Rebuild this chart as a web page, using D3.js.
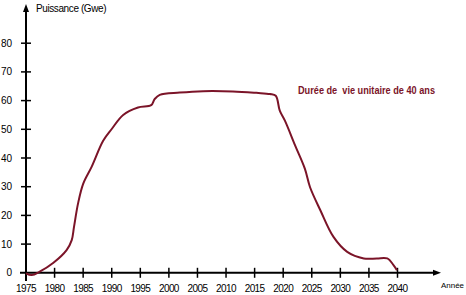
<!DOCTYPE html>
<html><head><meta charset="utf-8">
<script src="https://cdn.jsdelivr.net/npm/d3@7"></script>
<style>body{margin:0;background:#fff}svg{display:block}text{font-family:"Liberation Sans",Arial,sans-serif;white-space:pre}</style>
</head><body>
<script>
const years = [1975,1976,1977.4,1979.8,1982.1,1983,1983.4,1984.1,1985,1986.5,1988.5,1990,1992,1994.6,1996.9,1997.5,1998.4,2001.9,2006,2011.2,2015.3,2017.7,2018.7,2019.4,2020.3,2022.1,2023.8,2024.7,2026.5,2028.8,2031.2,2034.1,2036.4,2038.2,2039.3,2039.9];
const power = [-0.2,-0.8,0.4,3.5,7.9,11.4,16,24.1,31,37,46,50.1,55,57.6,58.4,60.5,62,62.8,63.3,63.2,62.7,62.3,61.7,56.5,53,44.3,36.2,29.8,21.8,12.5,7.3,5,5,5,2.7,0.9];
const xTicks = [1975,1980,1985,1990,1995,2000,2005,2010,2015,2020,2025,2030,2035,2040];
const yTicks = [0,10,20,30,40,50,60,70,80];
const yTitle = "Puissance (Gwe)";
const xTitle = "Année";
const note = "Durée de  vie unitaire de 40 ans";

const W = 466, H = 295, col = "#7b1428";
const svg = d3.select("body").append("svg").attr("width", W).attr("height", H);
const x = d3.scaleLinear().domain([1975, 2040]).range([26, 397.5]);
const y = d3.scaleLinear().domain([0, 80]).range([272.8, 43.2]);

svg.append("line").attr("x1", 26).attr("x2", 26).attr("y1", 10).attr("y2", 281).attr("stroke", "#000").attr("stroke-width", 2);
svg.append("path").attr("d", "M26,4 L23,12 L29,12 Z").attr("fill", "#000");
svg.append("line").attr("x1", 20).attr("x2", 434).attr("y1", y(0)).attr("y2", y(0)).attr("stroke", "#000").attr("stroke-width", 2);
svg.append("path").attr("d", `M441,${y(0)} L433,${y(0)-3} L433,${y(0)+3} Z`).attr("fill", "#000");

const xa = svg.append("g");
xTicks.forEach(t => {
  if (t !== 1975) xa.append("line").attr("x1", x(t)).attr("x2", x(t)).attr("y1", y(0)-5).attr("y2", y(0)+5).attr("stroke", "#000").attr("stroke-width", 1.5);
  xa.append("text").attr("x", x(t)).attr("y", 292).attr("text-anchor", "middle").attr("font-size", 10).attr("letter-spacing", -0.6).text(t);
});
yTicks.forEach(t => {
  if (t !== 0) svg.append("line").attr("x1", 21).attr("x2", 31).attr("y1", y(t)).attr("y2", y(t)).attr("stroke", "#000").attr("stroke-width", 1.5);
  svg.append("text").attr("x", 12).attr("y", y(t) + 3.5).attr("text-anchor", "end").attr("font-size", 10).text(t);
});

svg.append("text").attr("x", 36).attr("y", 12).attr("font-size", 10).attr("letter-spacing", -0.4).text(yTitle);
svg.append("text").attr("x", 441).attr("y", 288).attr("font-size", 8).attr("textLength", 23).attr("lengthAdjust", "spacingAndGlyphs").text(xTitle);

const line = d3.line().x((d, i) => x(years[i])).y(d => y(d)).curve(d3.curveCatmullRom.alpha(0.5));
svg.append("path").attr("d", line(power)).attr("fill", "none").attr("stroke", col).attr("stroke-width", 2);

svg.append("text").attr("x", 298).attr("y", 94).attr("font-size", 11).attr("font-weight", "bold").attr("fill", col)
  .attr("xml:space", "preserve")
  .attr("textLength", 137).attr("lengthAdjust", "spacingAndGlyphs").text(note);
</script>
</body></html>
